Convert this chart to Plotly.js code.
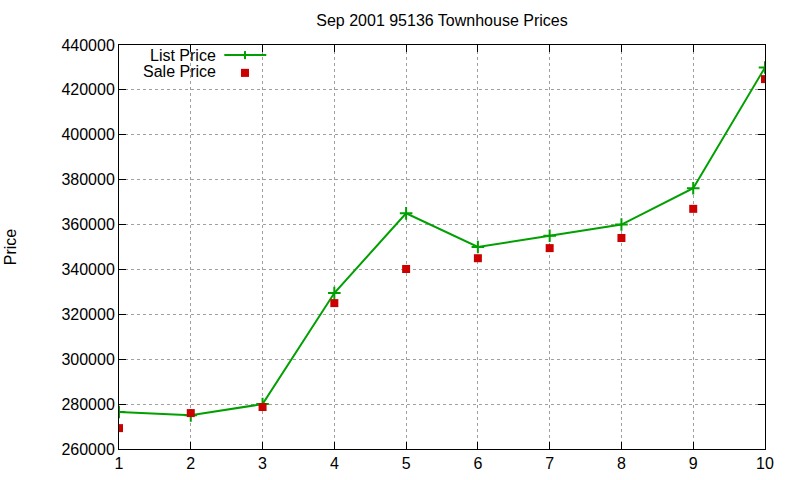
<!DOCTYPE html>
<html><head><meta charset="utf-8">
<script src="https://cdn.plot.ly/plotly-3.0.1.min.js"></script>
<style>body{margin:0;background:#fff}#c{width:800px;height:480px}</style>
</head><body><div id="c"></div>
<script>
const months = [1,2,3,4,5,6,7,8,9,10];
const listPrice = [276500,275000,280000,329500,365000,350000,355000,360000,376200,430000];
const salePrice = [269300,276000,278700,325000,340200,345000,349500,354000,367000,424800];
const yTicks = [260000,280000,300000,320000,340000,360000,380000,400000,420000,440000];

const green = '#00a000', red = '#cc0000';
const font = {family:'Liberation Sans, Arial, sans-serif', size:16, color:'#000'};

const traces = [
  {x:months, y:listPrice, mode:'lines+markers', name:'List Price',
   line:{color:green, width:2},
   marker:{symbol:'cross-thin-open', size:9, line:{color:green, width:2}, color:green}},
  {x:months, y:salePrice, mode:'markers', name:'Sale Price',
   marker:{symbol:'square', size:8, color:red}}
];

const axisCommon = {showline:true, linecolor:'#000', linewidth:1, mirror:'ticks',
  ticks:'inside', ticklen:7, tickcolor:'#000', showgrid:true, gridcolor:'#a0a0a0',
  griddash:'dot', gridwidth:1, zeroline:false, tickfont:font};

const layout = {
  width:800, height:480, paper_bgcolor:'#fff', plot_bgcolor:'#fff',
  margin:{l:119, r:35, t:45, b:31},
  showlegend:false,
  title:{text:'Sep 2001 95136 Townhouse Prices', font:font, xref:'paper', x:0.5, xanchor:'center', yref:'container', y:0.958, yanchor:'middle'},
  xaxis:Object.assign({}, axisCommon, {range:[1,10], tickvals:months, ticktext:months.map(String)}),
  yaxis:Object.assign({}, axisCommon, {range:[260000,440000], tickvals:yTicks, ticktext:yTicks.map(String),
    title:{text:'Price', font:font, standoff:40}}),
  annotations:[
    {xref:'paper', yref:'paper', x:0.153, y:0.975, xanchor:'right', yanchor:'middle', text:'List Price', showarrow:false, font:font, height:14},
    {xref:'paper', yref:'paper', x:0.153, y:0.936, xanchor:'right', yanchor:'middle', text:'Sale Price', showarrow:false, font:font, height:14}
  ],
  shapes:[
    {type:'line', xref:'paper', yref:'paper', x0:0.163, x1:0.228, y0:0.975, y1:0.975, line:{color:green, width:2}},
    {type:'line', xref:'paper', yref:'paper', x0:0.195, x1:0.195, y0:0.965, y1:0.985, line:{color:green, width:2}},
    {type:'rect', xref:'paper', yref:'paper', x0:0.1888, x1:0.2012, y0:0.921, y1:0.941, fillcolor:red, line:{width:0}}
  ]
};
Plotly.newPlot('c', traces, layout, {displayModeBar:false, staticPlot:true});
</script></body></html>
